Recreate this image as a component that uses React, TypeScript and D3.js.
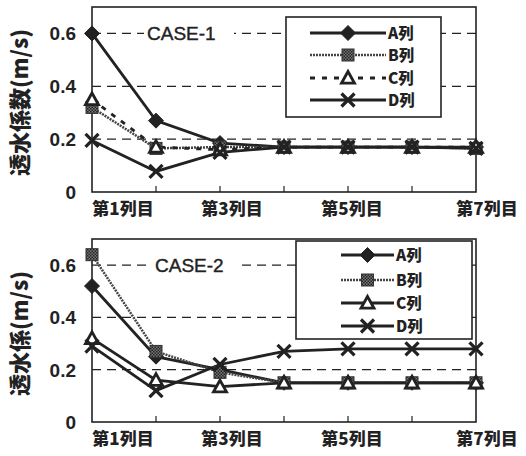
import * as d3 from 'd3';

const columns = [1, 2, 3, 4, 5, 6, 7];
const tickLabels = ['第1列目', '第3列目', '第5列目', '第7列目'];
const labelCols = [1, 3, 5, 7];
const yTicks = [0, 0.2, 0.4, 0.6];
const seriesNames = ['A列', 'B列', 'C列', 'D列'];

const case1A = [0.6, 0.27, 0.185, 0.17, 0.17, 0.17, 0.17];
const case1B = [0.32, 0.165, 0.17, 0.17, 0.17, 0.17, 0.165];
const case1C = [0.35, 0.17, 0.16, 0.17, 0.17, 0.17, 0.17];
const case1D = [0.195, 0.078, 0.15, 0.17, 0.17, 0.17, 0.165];

const case2A = [0.52, 0.25, 0.2, 0.15, 0.15, 0.15, 0.15];
const case2B = [0.64, 0.27, 0.19, 0.15, 0.15, 0.15, 0.15];
const case2C = [0.32, 0.16, 0.135, 0.15, 0.15, 0.15, 0.15];
const case2D = [0.29, 0.12, 0.22, 0.27, 0.28, 0.28, 0.28];

const ink = '#222';
const jp = '"Noto Sans CJK JP", "Liberation Sans", sans-serif';
const num = '"Liberation Sans", Arial, sans-serif';

type Style = { dash?: string; width: number; color: string };

const Marker = ({ kind, x, y }: { kind: string; x: number; y: number }) => {
  if (kind === 'A') {
    const s = 7.5;
    return <path d={`M${x},${y - s}L${x + s},${y}L${x},${y + s}L${x - s},${y}Z`} fill={ink} stroke={ink} strokeWidth={1} />;
  }
  if (kind === 'B') {
    return <rect x={x - 6} y={y - 6} width={12} height={12} fill="url(#checker)" stroke="#333" strokeWidth={1} />;
  }
  if (kind === 'C') {
    const s = 6.5;
    return <path d={`M${x},${y - s}L${x + s},${y + s * 0.8}L${x - s},${y + s * 0.8}Z`} fill="#fff" stroke={ink} strokeWidth={2.8} />;
  }
  const s = 6.5;
  return <path d={`M${x - s},${y - s}L${x + s},${y + s}M${x + s},${y - s}L${x - s},${y + s}`} stroke={ink} strokeWidth={3.2} />;
};

const Panel = ({
  top, bottom, title, data, styles, caseLabel, caseX, legend,
}: {
  top: number; bottom: number; title: string; data: number[][]; styles: Style[];
  caseLabel: string; caseX: number;
  legend: { x0: number; x1: number; y0: number; y1: number; lx0: number; lx1: number; rows: number[] };
}) => {
  const left = 92;
  const right = 476;
  const x = d3.scaleLinear().domain([1, 7]).range([left, right]);
  const y = d3.scaleLinear().domain([0, 0.7]).range([bottom, top]);
  const kinds = ['A', 'B', 'C', 'D'];
  const labelDx = [31, 12, 4, 11];
  const line = d3.line<number>().x((_, i) => x(columns[i])).y((d) => y(d));
  return (
    <g>
      {yTicks.filter((t) => t > 0).map((t) => (
        <line key={t} x1={left} x2={right} y1={y(t)} y2={y(t)} stroke={ink} strokeWidth={1.3} strokeDasharray="9,6" />
      ))}
      <rect x={caseX - 3} y={y(0.6) - 11} width={90} height={22} fill="#fff" />
      <text x={caseX} y={y(0.6)} dy="0.36em" fontFamily={num} fontSize={19} fill={ink} stroke={ink} strokeWidth={0.4}>{caseLabel}</text>
      <rect x={left} y={top} width={right - left} height={bottom - top} fill="none" stroke={ink} strokeWidth={1.6} />
      {columns.slice(1, -1).map((c) => (
        <line key={c} x1={x(c)} x2={x(c)} y1={bottom} y2={bottom - 6} stroke={ink} strokeWidth={1.2} />
      ))}
      {yTicks.map((t) => (
        <text key={t} x={76} y={y(t)} dy="0.36em" textAnchor="end" fontFamily={num} fontWeight="bold" fontSize={19} fill={ink}>
          {t === 0 ? '0' : d3.format('.1f')(t)}
        </text>
      ))}
      {labelCols.map((c, i) => (
        <text key={c} x={x(c) + labelDx[i]} y={bottom + 23} textAnchor="middle" fontFamily={jp} fontWeight="900" fontSize={17} fill={ink}>
          {tickLabels[i]}
        </text>
      ))}
      <text transform={`translate(28,${(top + bottom) / 2 + 3}) rotate(-90)`} textAnchor="middle" fontFamily={jp} fontWeight="900" fontSize={22} fill={ink}>
        {title}
      </text>
      {data.map((d, k) => (
        <path key={k} d={line(d) || ''} fill="none" stroke={styles[k].color} strokeWidth={styles[k].width} strokeDasharray={styles[k].dash} />
      ))}
      {data.map((d, k) => d.map((v, i) => <Marker key={`${k}-${i}`} kind={kinds[k]} x={x(columns[i])} y={y(v)} />))}
      <rect x={legend.x0} y={legend.y0} width={legend.x1 - legend.x0} height={legend.y1 - legend.y0} fill="#fff" stroke={ink} strokeWidth={1.6} />
      {seriesNames.map((n, k) => {
        const ly = legend.rows[k];
        const mx = (legend.lx0 + legend.lx1) / 2;
        return (
          <g key={n}>
            <line x1={legend.lx0} x2={legend.lx1} y1={ly} y2={ly} stroke={styles[k].color} strokeWidth={styles[k].width} strokeDasharray={styles[k].dash} />
            <Marker kind={kinds[k]} x={mx} y={ly} />
            <text x={legend.lx1 + 2} y={ly} dy="0.36em" fontFamily={jp} fontWeight="900" fontSize={15.5} fill={ink}>{n}</text>
          </g>
        );
      })}
    </g>
  );
};

export default function App() {
  const styles1: Style[] = [
    { width: 2.8, color: ink },
    { width: 2.5, color: '#444', dash: '2,1' },
    { width: 2.8, color: ink, dash: '5,7' },
    { width: 2.8, color: ink },
  ];
  const styles2: Style[] = [
    { width: 2.8, color: ink },
    { width: 2.5, color: '#444', dash: '2,1' },
    { width: 2.8, color: ink },
    { width: 2.8, color: ink },
  ];
  return (
    <svg width={526} height={456} style={{ position: 'absolute', left: 0, top: 0, background: '#fff' }}>
      <defs>
        <pattern id="checker" width={3} height={3} patternUnits="userSpaceOnUse">
          <rect width={3} height={3} fill="#777" />
          <rect width={1.5} height={1.5} fill="#222" />
          <rect x={1.5} y={1.5} width={1.5} height={1.5} fill="#222" />
        </pattern>
      </defs>
      <Panel
        top={7}
        bottom={192}
        title="透水係数(m/s)"
        data={[case1A, case1B, case1C, case1D]}
        styles={styles1}
        caseLabel="CASE-1"
        caseX={147}
        legend={{ x0: 286, x1: 441, y0: 17, y1: 117, lx0: 310, lx1: 386, rows: [33, 55, 78, 100] }}
      />
      <Panel
        top={239}
        bottom={422}
        title="透水係(m/s)"
        data={[case2A, case2B, case2C, case2D]}
        styles={styles2}
        caseLabel="CASE-2"
        caseX={155}
        legend={{ x0: 296, x1: 472, y0: 241, y1: 339, lx0: 341, lx1: 394, rows: [255, 280, 303, 326] }}
      />
    </svg>
  );
}
